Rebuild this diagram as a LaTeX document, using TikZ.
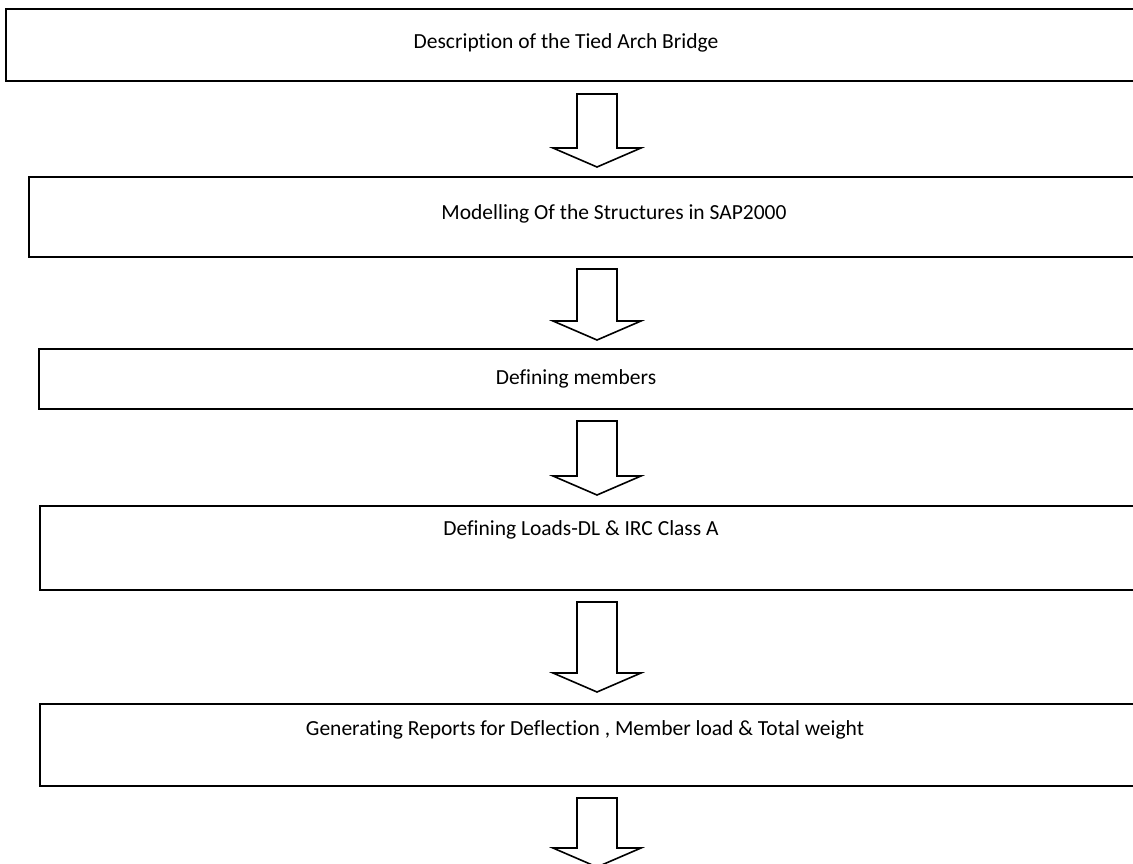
\documentclass[tikz,border=0pt]{standalone}
\usepackage{fontspec}
\setmainfont[Ligatures=NoCommon]{Carlito}
\usetikzlibrary{calc}
\tikzset{
  stagebox/.style={draw=black, line width=2.4pt, fill=white},
  stagetext/.style={font=\fontsize{21.5}{25}\selectfont, inner sep=0pt, anchor=center},
  blockarrow/.style={draw=black, line width=1.6pt, fill=white, line join=miter},
}
\newcommand{\flowarrow}[3]{% centre x, top y, tip y
  \draw[blockarrow] (#1-20,#2) -- (#1+20,#2) -- (#1+20,#3-19) -- (#1+44,#3-19)
     -- (#1,#3) -- (#1-44,#3-19) -- (#1-20,#3-19) -- cycle;}
\begin{document}
\begin{tikzpicture}[x=1pt,y=-1pt]
\useasboundingbox (0,0) rectangle (1133,863);
\clip (0,0) rectangle (1133,863);
\fill[white] (0,0) rectangle (1133,863);
% boxes (run past the right edge)
\draw[stagebox] (6,9) rectangle (1150,81);
\coordinate (b1) at (6,9);
\draw[stagebox] (29,177) rectangle (1150,257);
\coordinate (b2) at (29,177);
\draw[stagebox] (39,349) rectangle (1150,409);
\coordinate (b3) at (39,349);
\draw[stagebox] (40,506) rectangle (1150,590);
\coordinate (b4) at (40,506);
\draw[stagebox] (40,704) rectangle (1150,786);
\coordinate (b5) at (40,704);
% texts
\node[stagetext] (t1) at (566,43) {Description of the Tied Arch Bridge};
\node[stagetext] (t2) at (614,214) {Modelling Of the Structures in SAP2000};
\node[stagetext] (t3) at (576,379) {Defining members};
\node[stagetext] (t4) at (581,530) {Defining Loads-DL \& IRC Class A};
\node[stagetext] (t5) at (585,730) {Generating Reports for Deflection , Member load \& Total weight};
% block arrows
\flowarrow{597}{94}{167}
\flowarrow{597}{269}{340}
\flowarrow{597}{421}{495}
\flowarrow{597}{602}{692}
\flowarrow{597}{798}{867}
\end{tikzpicture}
\end{document}
